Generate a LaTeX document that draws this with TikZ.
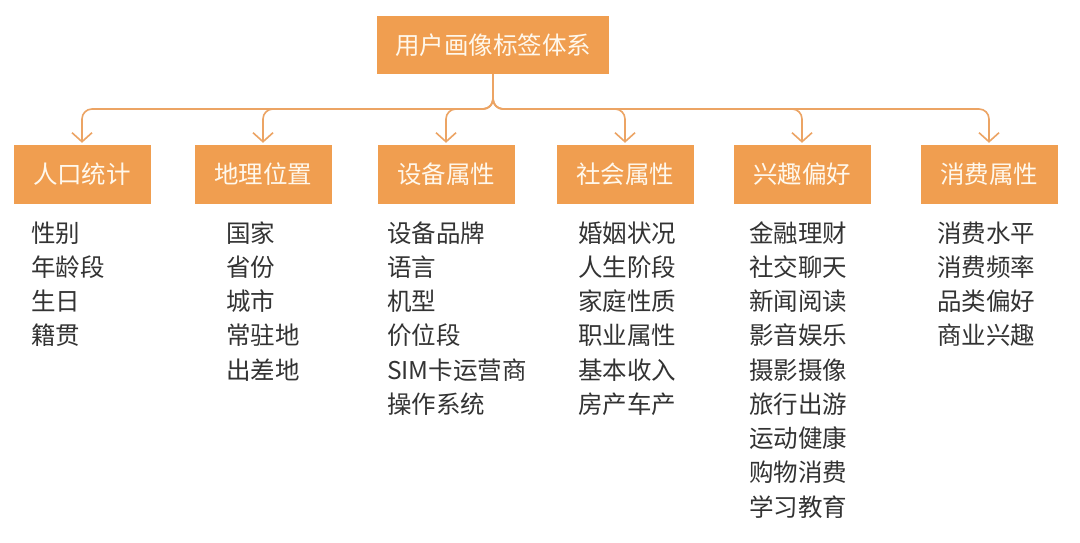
\documentclass[tikz,border=0pt]{standalone}
\usepackage{fontspec}
\setmainfont{Noto Sans CJK SC}
\newfontfamily\cjk{Noto Sans CJK SC}
\usetikzlibrary{arrows.meta}
\definecolor{boxorange}{RGB}{240,158,80}
\definecolor{lineorange}{RGB}{236,164,100}
\definecolor{boxtext}{RGB}{255,248,236}
\definecolor{itemgray}{RGB}{51,51,51}
\begin{document}
\begin{tikzpicture}[x=1pt,y=1pt,
  catbox/.style={fill=boxorange, draw=none, minimum width=137pt, minimum height=59pt, inner sep=0pt,
     text=boxtext, font=\cjk\fontsize{24.5}{24.5}\selectfont},
  topbox/.style={catbox, minimum width=232pt, minimum height=58pt},
  conn/.style={draw=lineorange, line width=1.6pt, rounded corners=10pt,
     -{Straight Barb[length=9pt,width=20pt,line width=1.6pt]}, shorten >=2pt},
  item/.style={anchor=base west, inner sep=0pt, text=itemgray, font=\cjk\fontsize{24.5}{24.5}\selectfont}
]
\useasboundingbox (0,0) rectangle (1080,-543);
\fill[white] (0,0) rectangle (1080,-543);

\node[topbox] (top) at (493,-45) {用户画像标签体系};
\coordinate (hbar) at (494,-109);

\node[catbox] (b1) at (82,-174.5) {人口统计};
\node[catbox] (b2) at (263,-174.5) {地理位置};
\node[catbox] (b3) at (446,-174.5) {设备属性};
\node[catbox] (b4) at (625,-174.5) {社会属性};
\node[catbox] (b5) at (802,-174.5) {兴趣偏好};
\node[catbox] (b6) at (989,-174.5) {消费属性};

\foreach \b in {b1,b2,b3,b4,b5,b6}
  \draw[conn] (top.south) |- (\b.north |- hbar) -- (\b.north);

\foreach \t [count=\i] in {性别,年龄段,生日,籍贯}
  \node[item] (c1-\i) at (31,{-242-34.25*(\i-1)}) {\t};
\foreach \t [count=\i] in {国家,省份,城市,常驻地,出差地}
  \node[item] (c2-\i) at (226,{-242-34.25*(\i-1)}) {\t};
\foreach \t [count=\i] in {设备品牌,语言,机型,价位段,SIM卡运营商,操作系统}
  \node[item] (c3-\i) at (387,{-242-34.25*(\i-1)}) {\t};
\foreach \t [count=\i] in {婚姻状况,人生阶段,家庭性质,职业属性,基本收入,房产车产}
  \node[item] (c4-\i) at (578,{-242-34.25*(\i-1)}) {\t};
\foreach \t [count=\i] in {金融理财,社交聊天,新闻阅读,影音娱乐,摄影摄像,旅行出游,运动健康,购物消费,学习教育}
  \node[item] (c5-\i) at (749,{-242-34.25*(\i-1)}) {\t};
\foreach \t [count=\i] in {消费水平,消费频率,品类偏好,商业兴趣}
  \node[item] (c6-\i) at (937,{-242-34.25*(\i-1)}) {\t};
\end{tikzpicture}
\end{document}
